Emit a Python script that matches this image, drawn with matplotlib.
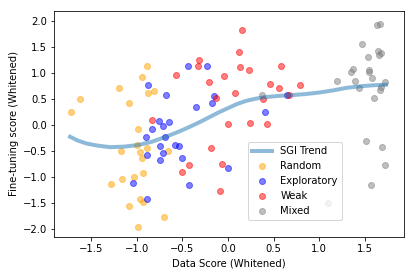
import numpy as np
import matplotlib
matplotlib.use("Agg")
import matplotlib.pyplot as plt

# SGI trend curve
trend_x = [-1.73, -1.65, -1.55, -1.43, -1.29, -1.14, -0.99, -0.84, -0.76, -0.68,
           -0.55, -0.42, -0.30, -0.20, -0.10, 0.00, 0.10, 0.20, 0.30, 0.40,
           0.55, 0.70, 0.85, 1.00, 1.15, 1.30, 1.45, 1.60, 1.73]
trend_y = [-0.22, -0.29, -0.35, -0.39, -0.42, -0.41, -0.38, -0.32, -0.27, -0.22,
           -0.13, -0.03, 0.07, 0.16, 0.25, 0.33, 0.41, 0.47, 0.51, 0.54,
           0.565, 0.58, 0.60, 0.63, 0.67, 0.72, 0.75, 0.77, 0.78]

random_x = [-0.887, -0.945, -1.194, -0.876, -0.807, -1.618, -1.72, -1.081, -0.982, -0.994,
            -0.887, -1.175, -0.968, -0.654, -0.942, -0.935, -1.026, -1.158, -1.285, -0.96,
            -0.935, -1.081, -0.698, -0.989]
random_y = [1.13, 0.93, 0.72, 0.62, 0.65, 0.50, 0.25, 0.42, -0.07, -0.37,
            -0.43, -0.49, -0.51, -0.49, -0.63, -0.92, -1.00, -1.04, -1.12, -1.42,
            -1.48, -1.56, -1.76, -1.95]

explor_x = [-0.873, -0.68, -0.756, -0.643, -0.715, -0.832, -0.898, -0.687, -0.435, -0.233,
            -0.35, -0.17, -0.153, 0.65, 0.409, -0.74, -0.887, -0.716, -0.58, -0.54,
            -0.748, -0.5, -1.037, -0.887, 0.0, -0.427]
explor_y = [0.78, 0.58, 0.08, 0.06, -0.01, -0.07, -0.22, -0.22, 1.14, 1.14,
            0.35, 0.43, 0.57, 0.58, 0.26, -0.39, -0.58, -0.53, -0.37, -0.39,
            -0.66, -0.63, -1.11, -1.42, -0.82, -1.15]

weak_x = [-0.829, -0.573, -0.314, -0.325, -0.212, 0.157, 0.12, 0.135, 0.234, 0.577,
          -0.04, 0.463, 0.555, 0.08, -0.135, 0.387, 0.67, 0.003, 0.237, 0.43,
          0.785, -0.183, -0.427, -0.5, -0.062, -0.084]
weak_y = [0.11, 0.97, 1.25, 1.13, 0.84, 1.84, 1.41, 1.12, 1.06, 1.13,
          0.94, 0.79, 0.72, 0.62, 0.52, 0.51, 0.58, 0.03, 0.04, 0.03,
          0.78, -0.44, -0.76, -0.90, -0.74, -1.26]

mixed_x = [0.372, 1.632, 1.665, 1.468, 1.533, 1.64, 1.65, 1.68, 1.365, 1.344,
           1.544, 1.541, 1.577, 1.194, 1.395, 1.716, 1.438, 1.665, 1.676, 1.596,
           1.515, 1.687, 1.723, 1.57, 1.099]
mixed_y = [0.58, 1.92, 1.94, 1.56, 1.32, 1.43, 1.35, 1.38, 1.08, 1.03,
           1.07, 1.03, 0.91, 0.86, 0.86, 0.83, 0.72, 0.68, 0.74, 0.52,
           -0.31, -0.42, -0.76, -1.15, -1.49]

fig = plt.figure(figsize=(415 / 72, 277 / 72), dpi=72)
ax = fig.add_axes([54 / 415, 1 - 237 / 277, 350 / 415, 226 / 277])

ax.plot(trend_x, trend_y, color='tab:blue', alpha=0.5, lw=4, label='SGI Trend')
ax.scatter(random_x, random_y, c='orange', alpha=0.5, label='Random')
ax.scatter(explor_x, explor_y, c='blue', alpha=0.5, label='Exploratory')
ax.scatter(weak_x, weak_y, c='red', alpha=0.5, label='Weak')
ax.scatter(mixed_x, mixed_y, c='gray', alpha=0.5, label='Mixed')

ax.set_xlim(-1.906, 1.928)
ax.set_ylim(-2.146, 2.196)
ax.set_xlabel('Data Score (Whitened)')
ax.set_ylabel('Fine-tuning score (Whitened)')
ax.legend(loc='lower left', bbox_to_anchor=(0.555, 0.075), borderaxespad=0)

fig.savefig('out.png', dpi=72)
